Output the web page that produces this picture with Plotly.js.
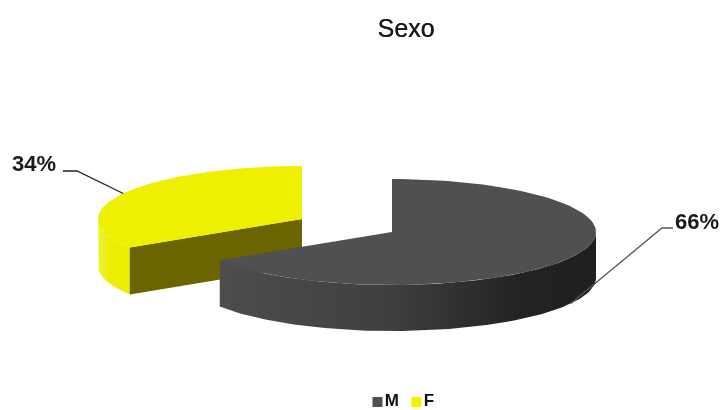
<!DOCTYPE html>
<html>
<head>
<meta charset="utf-8">
<script src="https://cdn.plot.ly/plotly-3.0.1.min.js"></script>
<style>html,body{margin:0;padding:0;background:#fff}#chart{width:723px;height:410px;filter:blur(0.45px)}</style>
</head>
<body>
<div id="chart"></div>
<script>
// Data
const categories = ['M', 'F'];
const values = [66, 34];
const chartTitle = 'Sexo';

// Styling / projection of the tilted pie
const centers = { M: [392, 232], F: [302, 219] };
const thickness = { M: 46, F: 47 };
const rx = 204, ry = 53;
const topColors = { M: '#505052', F: '#eef000' };
const cutColor = '#6b6500';

const total = values.reduce((a, b) => a + b, 0);
const spanM = values[0] / total * 360;
const spans = { M: [0, spanM], F: [spanM, 360] };

function pt(cat, deg, drop) {
  const r = deg * Math.PI / 180, c = centers[cat];
  return [c[0] + rx * Math.sin(r), c[1] - ry * Math.cos(r) + (drop || 0)];
}
function arc(cat, a, b, drop) {
  const out = [], n = 90;
  for (let i = 0; i <= n; i++) out.push(pt(cat, a + (b - a) * i / n, drop));
  return out;
}
function poly(points, extra) {
  return Object.assign({
    x: points.map(p => p[0]), y: points.map(p => p[1]),
    mode: 'lines', line: { width: 0 }, fill: 'toself', hoverinfo: 'skip', showlegend: false
  }, extra);
}
function wedgeTop(cat) {
  const s = spans[cat];
  return poly([centers[cat]].concat(arc(cat, s[0], s[1])).concat([centers[cat]]), { fillcolor: topColors[cat] });
}
function side(cat, a, b, gradient) {
  const d = thickness[cat];
  const pts = arc(cat, a, b).concat(arc(cat, b, a, d));
  pts.push(pts[0]);
  return poly(pts, {
    fillcolor: gradient[gradient.length - 1][1],
    fillgradient: { type: 'horizontal', colorscale: gradient }
  });
}
function leader(cat, dropAt, elbow, end, color) {
  const s = spans[cat], mid = (s[0] + s[1]) / 2, p = pt(cat, mid, dropAt);
  return { x: [p[0], elbow[0], end[0]], y: [p[1], elbow[1], end[1]], mode: 'lines',
           line: { color: color, width: 1.3 }, hoverinfo: 'skip', showlegend: false };
}

const cutEnd = pt('F', spans.F[0]);
const fC = centers.F, fD = thickness.F;
const cutFace = poly([fC, cutEnd, [cutEnd[0], cutEnd[1] + fD], [fC[0], fC[1] + fD], fC], { fillcolor: cutColor });

const traces = [
  side('F', spans.F[0], 270, [[0, '#eef23c'], [0.4, '#ebee00'], [1, '#ebee00']]),
  cutFace,
  wedgeTop('F'),
  side('M', 90, spans.M[1], [[0, '#4d4d4f'], [0.45, '#3f3f40'], [0.8, '#232323'], [1, '#1f1f1f']]),
  wedgeTop('M'),
  leader('F', 0, [77, 171], [63, 171], '#222222'),
  leader('M', thickness.M, [662, 228], [673, 228], '#555555'),
  { x: [377.5, 416.5], y: [402, 402], mode: 'markers+text', text: categories, textposition: 'middle right',
    marker: { symbol: 'square', size: 10, color: ['#505052', '#f2f200'] },
    textfont: { family: 'Liberation Sans, Arial, sans-serif', size: 17, color: '#111111', weight: 700 },
    hoverinfo: 'skip', showlegend: false, cliponaxis: false }
];

const layout = {
  width: 723, height: 410,
  margin: { l: 0, r: 0, t: 0, b: 0 },
  paper_bgcolor: '#ffffff', plot_bgcolor: '#ffffff',
  showlegend: false,
  title: { text: chartTitle, x: 0.5615, xanchor: 'center', y: 0.932, yanchor: 'middle',
           font: { family: 'Liberation Sans, Arial, sans-serif', size: 25, color: '#1a1a1a', shadow: '0.4px 0 0 #1a1a1a' } },
  xaxis: { range: [0, 723], visible: false, fixedrange: true },
  yaxis: { range: [410, 0], visible: false, fixedrange: true },
  annotations: [
    { x: 34, y: 163, xref: 'x', yref: 'y', text: values[1] + '%', showarrow: false,
      font: { family: 'Liberation Sans, Arial, sans-serif', size: 22, color: '#1a1a1a', weight: 700 } },
    { x: 697, y: 221, xref: 'x', yref: 'y', text: values[0] + '%', showarrow: false,
      font: { family: 'Liberation Sans, Arial, sans-serif', size: 22, color: '#1a1a1a', weight: 700 } }
  ]
};
Plotly.newPlot('chart', traces, layout, { displayModeBar: false, staticPlot: true });
</script>
</body>
</html>
